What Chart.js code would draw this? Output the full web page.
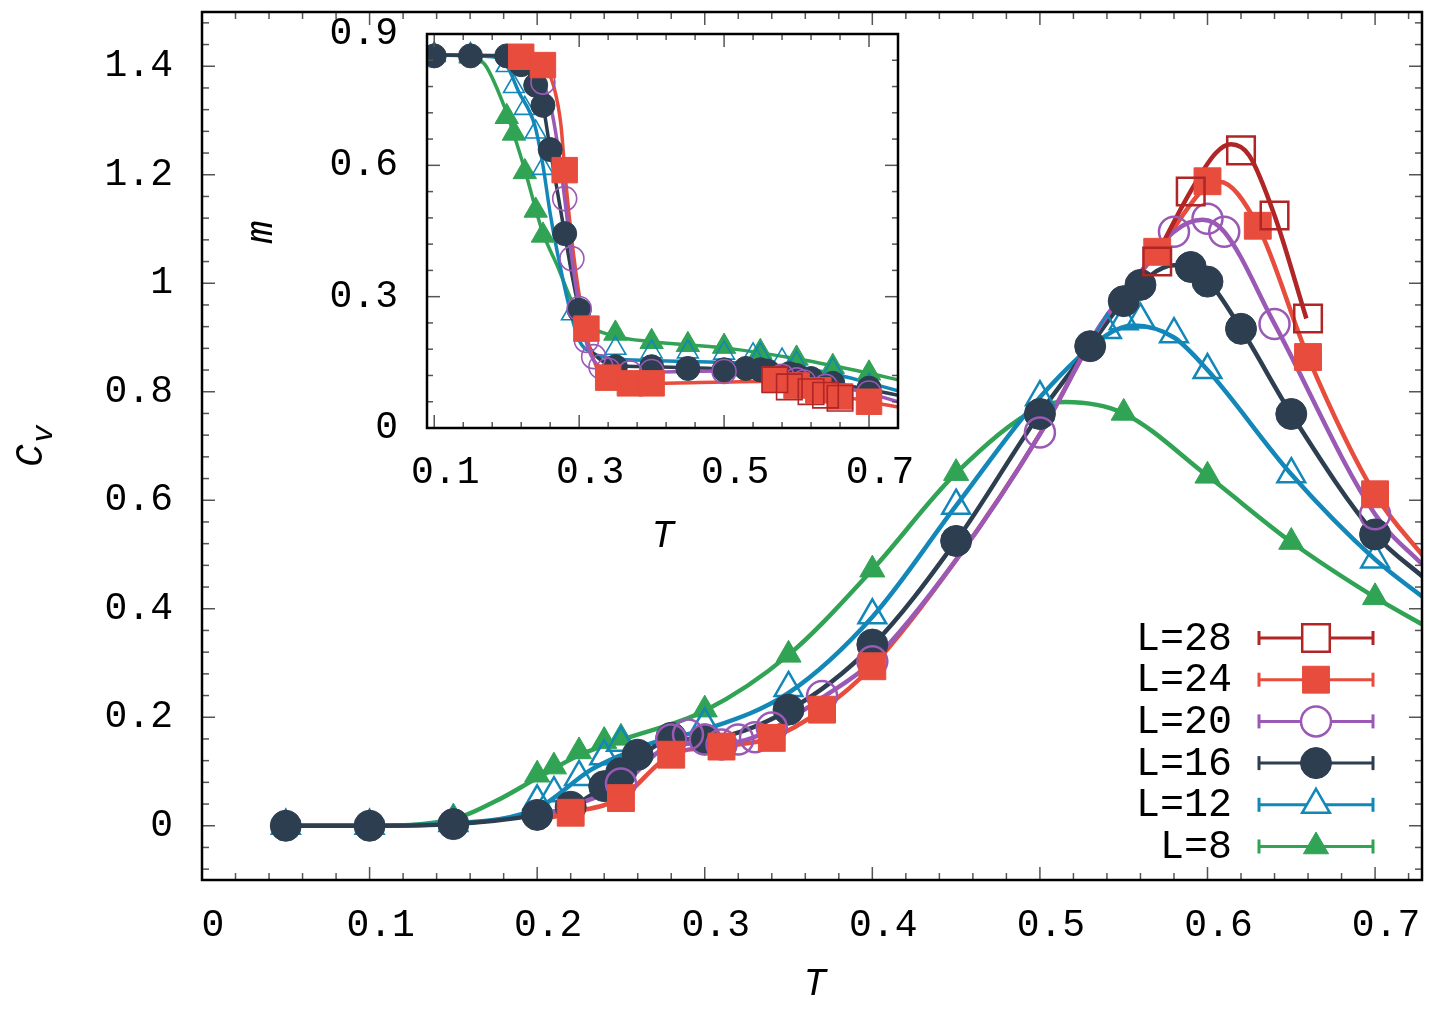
<!DOCTYPE html>
<html lang="en">
<head>
<meta charset="UTF-8">
<title>Specific heat and magnetisation vs T</title>
<script src="https://cdn.jsdelivr.net/npm/chart.js@4"></script>
<style>
  body { margin: 0; background: #fff; }
  #wrap { position: relative; width: 1434px; height: 1013px; }
  #mainChart { position: absolute; left: 0; top: 0; }
  #insetChart { position: absolute; left: 240px; top: 10px; }
</style>
</head>
<body>
<div id="wrap">
  <canvas id="mainChart" width="1434" height="1013"></canvas>
  <canvas id="insetChart" width="680" height="550"></canvas>
</div>
<script>
// ---- tick labels ----
const xTicks = [0, 0.1, 0.2, 0.3, 0.4, 0.5, 0.6, 0.7];
const xTickLabels = ['0', '0.1', '0.2', '0.3', '0.4', '0.5', '0.6', '0.7'];
const yTicks = [0, 0.2, 0.4, 0.6, 0.8, 1, 1.2, 1.4];
const yTickLabels = ['0', '0.2', '0.4', '0.6', '0.8', '1', '1.2', '1.4'];
const insetXTicks = [0.1, 0.3, 0.5, 0.7];
const insetXTickLabels = ['0.1', '0.3', '0.5', '0.7'];
const insetYTicks = [0, 0.3, 0.6, 0.9];
const insetYTickLabels = ['0', '0.3', '0.6', '0.9'];

// ---- main panel: C_v points ----
const T8  = [0.05, 0.1, 0.15, 0.2, 0.21, 0.225, 0.24, 0.25, 0.3, 0.35, 0.4, 0.45, 0.55, 0.6, 0.65, 0.7];
const cv8 = [0, 0, 0.015, 0.094, 0.109, 0.137, 0.156, 0.162, 0.214, 0.315, 0.472, 0.65, 0.761, 0.645, 0.523, 0.421];
const T12  = [0.05, 0.1, 0.15, 0.2, 0.21, 0.225, 0.24, 0.25, 0.3, 0.35, 0.4, 0.45, 0.5, 0.54, 0.55, 0.56, 0.58, 0.6, 0.65, 0.7];
const cv12 = [0, 0, 0.005, 0.045, 0.06, 0.09, 0.128, 0.153, 0.187, 0.254, 0.388, 0.59, 0.79, 0.914, 0.93, 0.933, 0.906, 0.84, 0.648, 0.491];
const T16  = [0.05, 0.1, 0.15, 0.2, 0.22, 0.24, 0.25, 0.26, 0.28, 0.3, 0.35, 0.4, 0.45, 0.5, 0.53, 0.55, 0.56, 0.59, 0.6, 0.62, 0.65, 0.7];
const cv16 = [0, 0, 0.003, 0.02, 0.035, 0.073, 0.097, 0.131, 0.162, 0.159, 0.214, 0.334, 0.525, 0.759, 0.884, 0.967, 0.997, 1.03, 1.003, 0.916, 0.759, 0.537];
const T20  = [0.25, 0.28, 0.29, 0.3, 0.31, 0.32, 0.33, 0.34, 0.37, 0.4, 0.5, 0.58, 0.6, 0.61, 0.64, 0.7];
const cv20 = [0.078, 0.159, 0.168, 0.159, 0.15, 0.159, 0.163, 0.181, 0.239, 0.303, 0.725, 1.095, 1.119, 1.095, 0.925, 0.574];
const T24  = [0.22, 0.25, 0.28, 0.31, 0.34, 0.37, 0.4, 0.57, 0.6, 0.63, 0.66, 0.7];
const cv24 = [0.024, 0.051, 0.131, 0.146, 0.162, 0.214, 0.294, 1.058, 1.188, 1.106, 0.864, 0.611];
const T28  = [0.57, 0.59, 0.62, 0.64, 0.66];
const cv28 = [1.04, 1.169, 1.245, 1.125, 0.935];

// ---- main panel: smooth curves ----
const fitT8  = [0.05, 0.1, 0.15, 0.175, 0.2, 0.225, 0.25, 0.3, 0.35, 0.4, 0.45, 0.5, 0.515, 0.55, 0.6, 0.65, 0.7, 0.73];
const fitCv8 = [0, 0, 0.012, 0.045, 0.088, 0.13, 0.158, 0.212, 0.315, 0.472, 0.65, 0.772, 0.781, 0.76, 0.645, 0.523, 0.421, 0.368];
const fitT12  = [0.05, 0.1, 0.15, 0.2, 0.232, 0.25, 0.272, 0.3, 0.35, 0.4, 0.45, 0.5, 0.54, 0.556, 0.58, 0.6, 0.65, 0.7, 0.73];
const fitCv12 = [0, 0, 0.004, 0.032, 0.103, 0.13, 0.156, 0.177, 0.245, 0.385, 0.59, 0.79, 0.905, 0.922, 0.9, 0.84, 0.648, 0.491, 0.418];
const fitT16  = [0.05, 0.1, 0.15, 0.2, 0.22, 0.24, 0.26, 0.28, 0.3, 0.35, 0.4, 0.45, 0.5, 0.53, 0.55, 0.58, 0.6, 0.62, 0.65, 0.7, 0.73];
const fitCv16 = [0, 0, 0.003, 0.02, 0.035, 0.073, 0.125, 0.158, 0.16, 0.213, 0.332, 0.525, 0.76, 0.884, 0.967, 1.033, 1.005, 0.916, 0.759, 0.537, 0.455];
const fitT20  = [0.2, 0.25, 0.28, 0.3, 0.32, 0.34, 0.37, 0.4, 0.45, 0.5, 0.536, 0.56, 0.58, 0.597, 0.61, 0.64, 0.7, 0.73];
const fitCv20 = [0.015, 0.075, 0.148, 0.152, 0.155, 0.178, 0.236, 0.303, 0.49, 0.722, 0.922, 1.02, 1.095, 1.117, 1.095, 0.925, 0.574, 0.476];
const fitT24  = [0.2, 0.22, 0.25, 0.28, 0.31, 0.34, 0.37, 0.4, 0.45, 0.5, 0.536, 0.57, 0.6, 0.607, 0.63, 0.66, 0.7, 0.73];
const fitCv24 = [0.01, 0.024, 0.051, 0.131, 0.146, 0.162, 0.214, 0.294, 0.49, 0.722, 0.922, 1.058, 1.18, 1.187, 1.106, 0.864, 0.611, 0.492];
const fitT28  = [0.567, 0.59, 0.605, 0.614, 0.625, 0.64, 0.659];
const fitCv28 = [1.036, 1.17, 1.24, 1.256, 1.235, 1.125, 0.935];

// ---- inset: m points ----
const mT8 = [0.1, 0.15, 0.2, 0.21, 0.225, 0.24, 0.25, 0.35, 0.4, 0.45, 0.5, 0.55, 0.6, 0.65, 0.7];
const m8  = [0.852, 0.849, 0.711, 0.673, 0.585, 0.497, 0.44, 0.216, 0.197, 0.19, 0.186, 0.174, 0.159, 0.14, 0.125];
const mT12 = [0.1, 0.15, 0.2, 0.21, 0.225, 0.24, 0.25, 0.29, 0.35, 0.4, 0.45, 0.5, 0.54, 0.55, 0.58, 0.6, 0.65, 0.7];
const m12  = [0.853, 0.853, 0.828, 0.78, 0.73, 0.676, 0.593, 0.261, 0.182, 0.174, 0.174, 0.171, 0.167, 0.167, 0.155, 0.148, 0.133, 0.098];
const mT16 = [0.1, 0.15, 0.2, 0.22, 0.24, 0.25, 0.26, 0.28, 0.3, 0.35, 0.4, 0.45, 0.5, 0.53, 0.55, 0.56, 0.59, 0.6, 0.62, 0.65, 0.7];
const m16  = [0.85, 0.85, 0.85, 0.83, 0.783, 0.737, 0.636, 0.444, 0.269, 0.14, 0.14, 0.136, 0.133, 0.136, 0.133, 0.13, 0.124, 0.12, 0.113, 0.102, 0.091];
const mT20 = [0.25, 0.28, 0.29, 0.3, 0.31, 0.32, 0.33, 0.34, 0.37, 0.4, 0.5, 0.58, 0.6, 0.61, 0.64, 0.7];
const m20  = [0.79, 0.524, 0.387, 0.273, 0.2, 0.163, 0.14, 0.132, 0.126, 0.129, 0.129, 0.118, 0.11, 0.105, 0.095, 0.08];
const mT24 = [0.22, 0.25, 0.28, 0.31, 0.34, 0.37, 0.4, 0.57, 0.6, 0.63, 0.66, 0.7];
const m24  = [0.848, 0.829, 0.589, 0.227, 0.115, 0.102, 0.102, 0.11, 0.097, 0.086, 0.072, 0.06];
const mT28 = [0.57, 0.59, 0.62, 0.64, 0.66];
const m28  = [0.11, 0.094, 0.083, 0.075, 0.068];

// ---- inset: smooth curves ----
const mfitT8 = [0.09, 0.15, 0.17, 0.2, 0.21, 0.225, 0.24, 0.25, 0.27, 0.29, 0.31, 0.35, 0.4, 0.5, 0.6, 0.7, 0.74];
const mfit8  = [0.852, 0.848, 0.83, 0.72, 0.67, 0.59, 0.5, 0.445, 0.37, 0.29, 0.24, 0.21, 0.197, 0.183, 0.158, 0.125, 0.11];
const mfitT12 = [0.09, 0.18, 0.2, 0.216, 0.239, 0.25, 0.26, 0.27, 0.288, 0.3, 0.32, 0.35, 0.4, 0.5, 0.55, 0.6, 0.65, 0.7, 0.74];
const mfit12  = [0.853, 0.848, 0.828, 0.77, 0.69, 0.6, 0.49, 0.4, 0.265, 0.2, 0.17, 0.158, 0.154, 0.15, 0.146, 0.138, 0.124, 0.103, 0.085];
const mfitT16 = [0.09, 0.2, 0.22, 0.24, 0.25, 0.26, 0.27, 0.28, 0.29, 0.3, 0.31, 0.33, 0.35, 0.4, 0.5, 0.55, 0.6, 0.65, 0.7, 0.74];
const mfit16  = [0.852, 0.85, 0.83, 0.783, 0.737, 0.636, 0.54, 0.444, 0.35, 0.269, 0.2, 0.155, 0.143, 0.14, 0.135, 0.13, 0.12, 0.103, 0.088, 0.075];
const mfitT20 = [0.2, 0.24, 0.25, 0.26, 0.27, 0.28, 0.29, 0.3, 0.31, 0.32, 0.34, 0.37, 0.4, 0.5, 0.55, 0.6, 0.65, 0.7, 0.74];
const mfit20  = [0.85, 0.83, 0.79, 0.74, 0.65, 0.524, 0.387, 0.276, 0.195, 0.155, 0.13, 0.125, 0.127, 0.13, 0.125, 0.11, 0.097, 0.079, 0.06];
const mfitT24 = [0.2, 0.22, 0.25, 0.265, 0.275, 0.28, 0.292, 0.306, 0.317, 0.329, 0.34, 0.37, 0.4, 0.5, 0.57, 0.6, 0.63, 0.66, 0.7, 0.74];
const mfit24  = [0.85, 0.848, 0.83, 0.78, 0.69, 0.59, 0.4, 0.245, 0.17, 0.125, 0.113, 0.102, 0.102, 0.105, 0.107, 0.097, 0.086, 0.074, 0.06, 0.048];
const mfitT28 = [0.562, 0.59, 0.617, 0.64, 0.668];
const mfit28  = [0.11, 0.095, 0.083, 0.074, 0.068];

const FONT = '"Liberation Mono", "DejaVu Sans Mono", monospace';

// styles per system size; pointOrder / lineOrder: lower is drawn on top
const series = [
  { label: 'L=8',  color: '#31a354', style: 'triangle', open: false, r: 14.5, ri: 13.5, pointOrder: 5, lineOrder: 11,
    T: T8,  cv: cv8,  fT: fitT8,  fCv: fitCv8,  mT: mT8,  m: m8,  mfT: mfitT8,  mf: mfit8 },
  { label: 'L=12', color: '#1287b8', style: 'triangle', open: true,  r: 16,   ri: 12, pointOrder: 4, lineOrder: 10,
    T: T12, cv: cv12, fT: fitT12, fCv: fitCv12, mT: mT12, m: m12, mfT: mfitT12, mf: mfit12 },
  { label: 'L=16', color: '#2c3e50', style: 'circle',   open: false, r: 15.5, ri: 12, pointOrder: 3, lineOrder: 9,
    T: T16, cv: cv16, fT: fitT16, fCv: fitCv16, mT: mT16, m: m16, mfT: mfitT16, mf: mfit16 },
  { label: 'L=20', color: '#9b59b6', style: 'circle',   open: true,  r: 15,   ri: 12, pointOrder: 2, lineOrder: 7,
    T: T20, cv: cv20, fT: fitT20, fCv: fitCv20, mT: mT20, m: m20, mfT: mfitT20, mf: mfit20 },
  { label: 'L=24', color: '#e74c3c', style: 'rect',     open: false, r: 19,   ri: 18, pointOrder: 1, lineOrder: 8,
    T: T24, cv: cv24, fT: fitT24, fCv: fitCv24, mT: mT24, m: m24, mfT: mfitT24, mf: mfit24 },
  { label: 'L=28', color: '#b02525', style: 'rect',     open: true,  r: 19.5, ri: 18, pointOrder: 0, lineOrder: 6,
    T: T28, cv: cv28, fT: fitT28, fCv: fitCv28, mT: mT28, m: m28, mfT: mfitT28, mf: mfit28 }
];

function pts(xs, ys) { return xs.map((x, i) => ({ x: x, y: ys[i] })); }

function buildDatasets(inset) {
  const out = [];
  series.forEach(s => {
    out.push({
      data: inset ? pts(s.mfT, s.mf) : pts(s.fT, s.fCv),
      borderColor: s.color, borderWidth: inset ? 3.5 : 4.5,
      pointRadius: 0, fill: false, cubicInterpolationMode: 'monotone',
      order: s.lineOrder
    });
    out.push({
      data: inset ? pts(s.mT, s.m) : pts(s.T, s.cv),
      showLine: false, pointStyle: s.style,
      pointRadius: inset ? s.ri : s.r,
      pointBackgroundColor: s.open ? 'rgba(0,0,0,0)' : s.color,
      pointBorderColor: s.color,
      pointBorderWidth: s.open ? (inset ? 1.6 : 2.5) : 1,
      order: s.pointOrder
    });
  });
  return out;
}

function seg(ctx, x1, y1, x2, y2) {
  ctx.beginPath(); ctx.moveTo(x1, y1); ctx.lineTo(x2, y2); ctx.stroke();
}

// inward ticks on all four sides, gnuplot style, plus the frame
function frameTicks(cfg) {
  return {
    id: 'frameTicks',
    beforeDatasetsDraw(chart) {
      if (!cfg.whiteArea) return;
      const a = chart.chartArea, ctx = chart.ctx;
      ctx.save(); ctx.fillStyle = '#fff';
      ctx.fillRect(a.left, a.top, a.right - a.left, a.bottom - a.top);
      ctx.restore();
    },
    afterDraw(chart) {
      const ctx = chart.ctx, a = chart.chartArea, xs = chart.scales.x, ys = chart.scales.y;
      ctx.save();
      ctx.strokeStyle = '#555'; ctx.lineWidth = 1.5;
      for (let i = 0; ; i++) {
        const v = cfg.xMinorFrom + i * cfg.xMinor;
        if (v > xs.max - 1e-9) break;
        if (v < xs.min + 1e-9) continue;
        const p = xs.getPixelForValue(v);
        const L = cfg.xMajor.some(m => Math.abs(m - v) < 1e-6) ? cfg.major : cfg.minor;
        seg(ctx, p, a.bottom, p, a.bottom - L);
        seg(ctx, p, a.top, p, a.top + L);
      }
      for (let i = 0; ; i++) {
        const v = cfg.yMinorFrom + i * cfg.yMinor;
        if (v > ys.max - 1e-9) break;
        if (v < ys.min + 1e-9) continue;
        const p = ys.getPixelForValue(v);
        const L = cfg.yMajor.some(m => Math.abs(m - v) < 1e-6) ? cfg.major : cfg.minor;
        seg(ctx, a.left, p, a.left + L, p);
        seg(ctx, a.right, p, a.right - L, p);
      }
      ctx.strokeStyle = '#000'; ctx.lineWidth = cfg.frame;
      ctx.strokeRect(a.left, a.top, a.right - a.left, a.bottom - a.top);
      ctx.restore();
    }
  };
}

function marker(ctx, s, x, y, r) {
  ctx.fillStyle = s.open ? '#fff' : s.color;
  ctx.strokeStyle = s.color;
  ctx.lineWidth = s.open ? 2.5 : 1;
  Chart.helpers.drawPoint(ctx, { pointStyle: s.style, radius: r, rotation: 0, borderWidth: ctx.lineWidth }, x, y);
}

const mainDecor = {
  id: 'mainDecor',
  afterDraw(chart) {
    const ctx = chart.ctx;
    ctx.save();
    // legend, L=28 on top
    const list = series.slice().reverse();
    list.forEach((s, i) => {
      const y = 638 + i * 41.7;
      ctx.fillStyle = '#000';
      ctx.font = '40px ' + FONT;
      ctx.textAlign = 'right'; ctx.textBaseline = 'middle';
      ctx.fillText(s.label, 1232, y + 1);
      ctx.strokeStyle = s.color; ctx.lineWidth = 3;
      seg(ctx, 1259, y, 1373, y);
      seg(ctx, 1259, y - 7, 1259, y + 7);
      seg(ctx, 1373, y - 7, 1373, y + 7);
      marker(ctx, s, 1316, y, s.r);
    });
    // axis titles
    ctx.fillStyle = '#000';
    ctx.textAlign = 'center'; ctx.textBaseline = 'middle';
    ctx.font = 'italic 38px ' + FONT;
    ctx.fillText('T', 815, 985);
    ctx.translate(42, 467);
    ctx.rotate(-Math.PI / 2);
    ctx.textAlign = 'left'; ctx.textBaseline = 'alphabetic';
    ctx.font = 'italic 38px ' + FONT;
    ctx.fillText('C', 0, 0);
    ctx.font = 'italic 30px ' + FONT;
    ctx.fillText('v', 24, 10);
    ctx.restore();
  }
};

const insetDecor = {
  id: 'insetDecor',
  afterDraw(chart) {
    const ctx = chart.ctx;
    ctx.save();
    ctx.fillStyle = '#000';
    ctx.textAlign = 'center'; ctx.textBaseline = 'middle';
    ctx.font = 'italic 38px ' + FONT;
    ctx.fillText('T', 663 - 240, 537 - 10);
    ctx.translate(262 - 240, 232 - 10);
    ctx.rotate(-Math.PI / 2);
    ctx.fillText('m', 0, 0);
    ctx.restore();
  }
};

function axis(min, max, ticks, labels, fit, tickOpts) {
  return {
    type: 'linear', min: min, max: max,
    grid: { display: false, drawTicks: false },
    border: { display: false },
    afterBuildTicks: s => { s.ticks = ticks.map(v => ({ value: v })); },
    afterFit: s => {
      fit(s);
      // no extra room for half-labels at the ends: gnuplot keeps the frame fixed
      s.paddingTop = 0; s.paddingBottom = 0; s.paddingLeft = 0; s.paddingRight = 0;
    },
    ticks: Object.assign({
      font: { family: FONT, size: 38 }, color: '#000',
      autoSkip: false, maxRotation: 0, includeBounds: false,
      callback: (v, i) => labels[i]
    }, tickOpts)
  };
}

new Chart(document.getElementById('mainChart'), {
  type: 'line',
  data: { datasets: buildDatasets(false) },
  options: {
    responsive: false, animation: false, devicePixelRatio: 1, events: [],
    layout: { autoPadding: false, padding: { top: 12, right: 12, left: 0, bottom: 0 } },
    plugins: { legend: { display: false }, tooltip: { enabled: false } },
    scales: {
      x: axis(0, 0.728, xTicks, xTickLabels, s => { s.height = 133; }, { padding: 23, labelOffset: 11 }),
      y: axis(-0.1, 1.5, yTicks, yTickLabels, s => { s.width = 202; }, { padding: 29 })
    }
  },
  plugins: [frameTicks({
    xMajor: xTicks, xMinor: 0.02, xMinorFrom: 0,
    yMajor: yTicks, yMinor: 0.04, yMinorFrom: -0.08,
    major: 13, minor: 7, frame: 2.5
  }), mainDecor]
});

new Chart(document.getElementById('insetChart'), {
  type: 'line',
  data: { datasets: buildDatasets(true) },
  options: {
    responsive: false, animation: false, devicePixelRatio: 1, events: [],
    layout: { autoPadding: false, padding: { top: 24, right: 22, left: 0, bottom: 0 } },
    plugins: { legend: { display: false }, tooltip: { enabled: false } },
    scales: {
      x: axis(0.09, 0.74, insetXTicks, insetXTickLabels, s => { s.height = 132; }, { padding: 22, labelOffset: 11 }),
      y: axis(0, 0.9, insetYTicks, insetYTickLabels, s => { s.width = 187; }, { padding: 29 })
    }
  },
  plugins: [frameTicks({
    whiteArea: true,
    xMajor: insetXTicks, xMinor: 0.04, xMinorFrom: 0.1,
    yMajor: insetYTicks, yMinor: 0.06, yMinorFrom: 0,
    major: 13, minor: 6, frame: 2.5
  }), insetDecor]
});
</script>
</body>
</html>
